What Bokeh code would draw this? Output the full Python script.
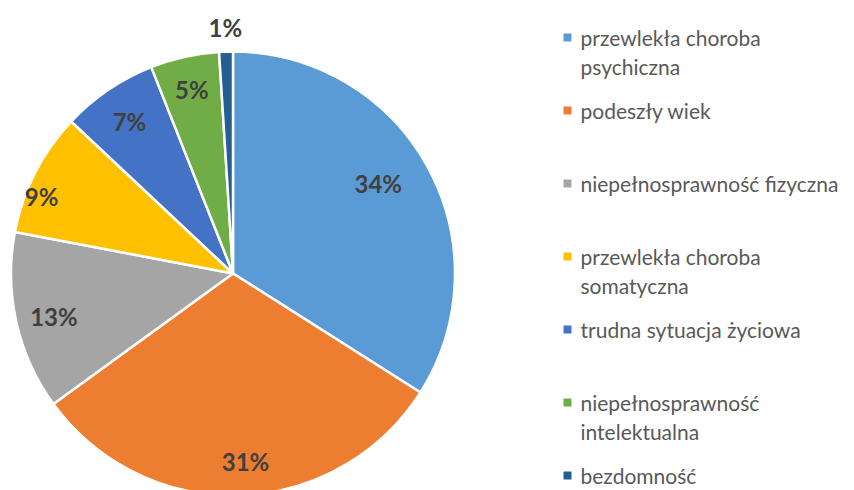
import math
from bokeh.plotting import figure
from bokeh.models import Range1d, ColumnDataSource
from bokeh.core.properties import value
from bokeh.embed import file_html
from bokeh.resources import INLINE

categories = [
    "przewlekła choroba\npsychiczna",
    "podeszły wiek",
    "niepełnosprawność fizyczna",
    "przewlekła choroba\nsomatyczna",
    "trudna sytuacja życiowa",
    "niepełnosprawność\nintelektualna",
    "bezdomność",
]
shares = [34, 31, 13, 9, 7, 5, 1]
colors = ["#5B9BD5", "#ED7D31", "#A5A5A5", "#FFC000", "#4472C4", "#70AD47", "#255E91"]

# layout (image pixel coordinates -> data: x = px, y = 490 - py)
W, H = 854, 490
CX, CY, R = 232.5, 490 - 273, 222.0
label_r = [0.77, 0.85, 0.83, 0.93, 0.83, 0.85, 1.11]
label_da = [3, 2, 1, 5, 0, 0, 0]  # degrees extra (counterclockwise)

p = figure(width=W, height=H, x_range=Range1d(0, 854), y_range=Range1d(0, 490),
           output_backend="svg", toolbar_location=None, min_border=0)
p.axis.visible = False
p.grid.visible = False
p.outline_line_color = None
p.background_fill_color = "white"

total = float(sum(shares))
starts, ends, lx, ly, txt = [], [], [], [], []
cum = 0.0
for i, v in enumerate(shares):
    a0 = math.pi / 2 - 2 * math.pi * cum / total
    a1 = math.pi / 2 - 2 * math.pi * (cum + v) / total
    starts.append(a1)
    ends.append(a0)
    mid = (a0 + a1) / 2 + math.radians(label_da[i])
    lx.append(CX + label_r[i] * R * math.cos(mid))
    ly.append(CY + label_r[i] * R * math.sin(mid))
    txt.append(f"{v}%")
    cum += v

src = ColumnDataSource(dict(s=starts, e=ends, c=colors))
p.wedge(x=CX, y=CY, radius=R, start_angle="s", end_angle="e", fill_color="c",
        line_color="white", line_width=2.5, source=src)

p.text(x=lx, y=ly, text=txt, text_font=value("Lato"), text_font_style="bold",
       text_font_size="24px", text_color="#404040", text_align="center",
       text_baseline="middle")

# legend
LX, LY0, DY, LINE = 567, 37, 73.0, 29
mx, my, mc, tx, ty, tt = [], [], [], [], [], []
for i, lab in enumerate(categories):
    y_img = LY0 + i * DY
    mx.append(LX)
    my.append(490 - y_img)
    mc.append(colors[i])
    for j, line in enumerate(lab.split("\n")):
        tx.append(LX + 13)
        ty.append(490 - (y_img + j * LINE))
        tt.append(line)

p.rect(x=mx, y=my, width=8, height=8, fill_color=mc, line_color=None)
p.text(x=tx, y=ty, text=tt, text_font=value("Lato"), text_font_size="21px",
       text_color="#595959", text_align="left", text_baseline="middle")

open("out.html", "w").write(file_html(p, INLINE))
